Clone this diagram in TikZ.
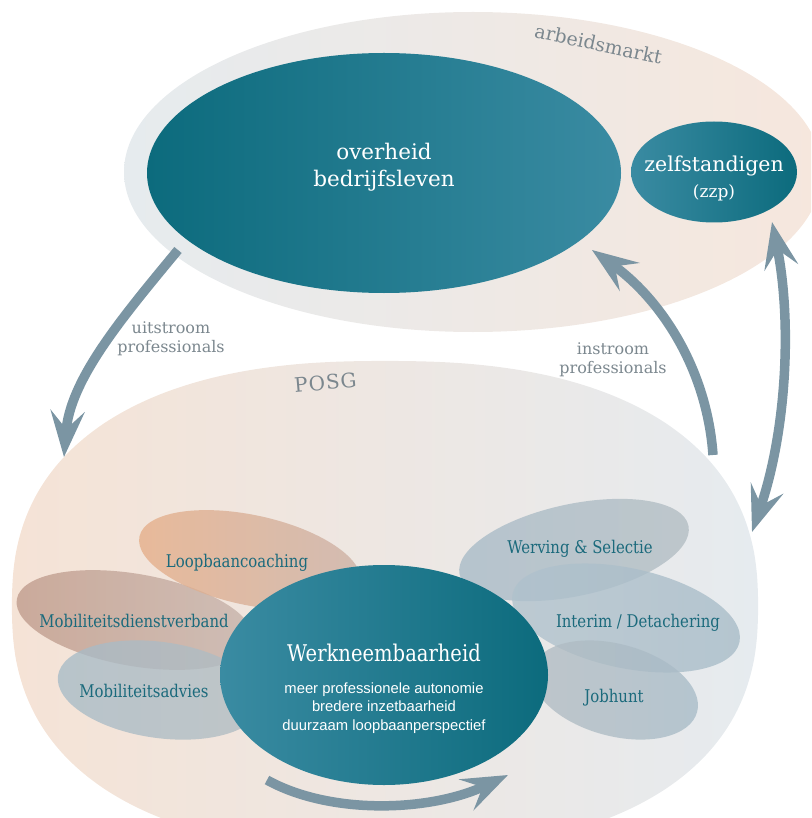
\documentclass[tikz,border=0pt]{standalone}
\usepackage{fontspec}
\setmainfont{DejaVu Serif}
\setsansfont{Liberation Sans}
\newfontfamily\condserif[FakeStretch=0.85]{DejaVu Serif}
\usetikzlibrary{arrows.meta,shapes.geometric}
\definecolor{tealD}{HTML}{0C6B7D}
\definecolor{tealM}{HTML}{0D7285}
\definecolor{tealL}{HTML}{3A8BA2}
\definecolor{arbL}{HTML}{E6EBEE}
\definecolor{arbR}{HTML}{F6E7DD}
\definecolor{posL}{HTML}{F5E3D6}
\definecolor{posR}{HTML}{E6EBEF}
\definecolor{lblgray}{HTML}{7B878E}
\definecolor{lblteal}{HTML}{1B6A7C}
\definecolor{arrowc}{HTML}{7B95A3}
\definecolor{peachA}{HTML}{E6AE88}
\definecolor{peachB}{HTML}{CBB0A5}
\definecolor{brownA}{HTML}{BF9A8A}
\definecolor{brownB}{HTML}{C6B3AB}
\definecolor{blueA}{HTML}{A7BBC7}
\definecolor{blueB}{HTML}{B2BCC2}
\begin{document}
\begin{tikzpicture}[x=1pt,y=-1pt,
  lbl/.style={font=\condserif\fontsize{17.5}{21}\selectfont, text=lblteal, inner sep=0pt, anchor=base},
  graylbl/.style={font=\fontsize{16}{19}\selectfont, text=lblgray, align=center, inner sep=0pt, anchor=base},
  whitebig/.style={text=white, align=center, inner sep=0pt, anchor=base},
  bigell/.style={ellipse, inner sep=0pt, draw=none},
  softell/.style={fill opacity=0.78},
  arr/.style={line width=9.5pt, draw=arrowc, -{Stealth[length=46pt, width=34pt, inset=18pt]}},
  darr/.style={line width=9.5pt, draw=arrowc, {Stealth[length=46pt, width=34pt, inset=18pt]}-{Stealth[length=46pt, width=34pt, inset=18pt]}}
]
\useasboundingbox (0,0) rectangle (811,818);
\clip (0,0) rectangle (811,818);

% arbeidsmarkt
\path[left color=arbL, right color=arbR] (473,172) ellipse [x radius=349, y radius=160];
\node[bigell, minimum width=474pt, minimum height=240pt, left color=tealD, middle color=tealM, right color=tealL] (ovh) at (384,173) {};
\node[bigell, minimum width=166pt, minimum height=101pt, left color=tealL, right color=tealD] (zzp) at (714,172) {};

% POSG shape (superellipse)
\path[left color=posL, right color=posR] plot[domain=1:359, samples=180, smooth]
  ({385+373*sign(cos(\x))*abs(cos(\x))^(0.8333)}, {606+245*sign(sin(\x))*abs(sin(\x))^(0.8333)}) -- cycle;

% small ellipses left
\path[softell, left color=brownA, right color=brownB, rotate around={-10:(135,620)}] (135,620) ellipse [x radius=120, y radius=46];
\path[softell, left color=peachA, right color=peachB, rotate around={-12:(250,560)}] (250,560) ellipse [x radius=113, y radius=45];
\path[softell, left color=blueA, right color=blueB, rotate around={-8:(160,690)}] (160,690) ellipse [x radius=103, y radius=48];
% small ellipses right
\path[softell, left color=blueA, right color=blueB, rotate around={12:(574,550)}] (574,550) ellipse [x radius=117, y radius=46];
\path[softell, left color=blueA!90!white, right color=blueA, rotate around={-12:(626,618)}] (626,618) ellipse [x radius=116, y radius=50];
\path[softell, left color=blueB, right color=blueA, rotate around={-15:(615,690)}] (615,690) ellipse [x radius=85, y radius=46];

% Werkneembaarheid
\node[bigell, minimum width=328pt, minimum height=220pt, left color=tealL, right color=tealD] (werk) at (384,675) {};

% texts
\node[whitebig, font=\fontsize{21.5}{27}\selectfont] (ovhT) at (384,187) {overheid\\bedrijfsleven};
\node[whitebig, font=\fontsize{20.5}{26}\selectfont] (zzpT) at (714,172) {zelfstandigen};
\node[whitebig, font=\fontsize{17}{20}\selectfont] (zzpT2) at (714,198) {(zzp)};
\node[text=lblgray, inner sep=0pt, anchor=base, rotate=-12, font=\fontsize{19}{22}\selectfont] (arbT) at (597,51) {arbeidsmarkt};
\node[text=lblgray, inner sep=0pt, anchor=base, rotate=5, font=\fontsize{20}{22}\selectfont\addfontfeature{LetterSpace=5}] (posgT) at (326,390) {POSG};
\node[graylbl] (uitT) at (171,352) {uitstroom\\professionals};
\node[graylbl] (inT) at (613,373) {instroom\\professionals};

\node[lbl] (l1) at (237,567) {Loopbaancoaching};
\node[lbl] (l2) at (134,627) {Mobiliteitsdienstverband};
\node[lbl] (l3) at (144,697) {Mobiliteitsadvies};
\node[lbl] (r1) at (580,553) {Werving \& Selectie};
\node[lbl] (r2) at (638,627) {Interim / Detachering};
\node[lbl] (r3) at (614,702) {Jobhunt};

\node[whitebig, font=\condserif\fontsize{23}{26}\selectfont] (werkT) at (384,661) {Werkneembaarheid};
\node[whitebig, font=\sffamily\fontsize{14.8}{18.5}\selectfont] (werkS) at (384,730) {meer professionele autonomie\\bredere inzetbaarheid\\duurzaam loopbaanperspectief};

% arrows
\coordinate (uA) at (178,250);
\coordinate (uB) at (64,457);
\coordinate (iA) at (713,455);
\coordinate (iB) at (592,250);
\coordinate (dA) at (772,222);
\coordinate (dB) at (752,532);
\coordinate (bA) at (267,780);
\coordinate (bB) at (508,775);
\draw[arr] (uA) .. controls (120,320) and (70,380) .. (uB);
\draw[arr] (iA) .. controls (707,370) and (662,300) .. (iB);
\draw[darr] (dA) .. controls (792,320) and (787,430) .. (dB);
\draw[arr] (bA) .. controls (330,815) and (430,812) .. (bB);
\end{tikzpicture}
\end{document}
